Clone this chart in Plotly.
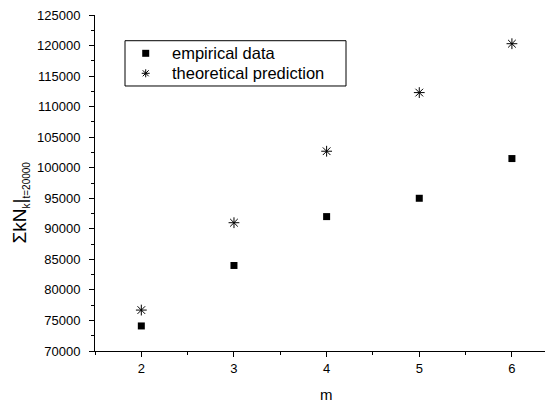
import plotly.graph_objects as go

m_values = [2, 3, 4, 5, 6]
empirical = [74100, 84000, 92000, 95000, 101500]
theoretical = [76700, 91000, 102700, 112300, 120300]
y_ticks = [70000, 75000, 80000, 85000, 90000, 95000, 100000, 105000, 110000, 115000, 120000, 125000]
legend_labels = ["empirical data", "theoretical prediction"]

FONT = "Liberation Sans, Arial, sans-serif"

fig = go.Figure()
fig.add_trace(go.Scatter(
    x=m_values, y=empirical, mode="markers", name=legend_labels[0],
    marker=dict(symbol="square", size=7, color="black", line=dict(width=0)),
    showlegend=False,
))
fig.add_trace(go.Scatter(
    x=m_values, y=theoretical, mode="markers", name=legend_labels[1],
    marker=dict(symbol="asterisk-open", size=9, color="black", line=dict(width=1, color="black")),
    showlegend=False,
))

# plot area (page px): x 95..545, y 15..351 -> 450 x 336
LX0, LX1, LYT, LYB = 0.0667, 0.5578, 0.9235, 0.7887
ROW_Y = [0.8860, 0.8265]
SYM_X = 0.1127
TXT_X = 0.1667

shapes = [
    dict(type="rect", xref="paper", yref="paper", x0=LX0, x1=LX1, y0=LYB, y1=LYT,
         line=dict(color="black", width=1), fillcolor="rgba(0,0,0,0)"),
    dict(type="rect", xref="paper", yref="paper", xsizemode="pixel", ysizemode="pixel",
         xanchor=SYM_X, yanchor=ROW_Y[0], x0=-3.5, x1=3.5, y0=-3.5, y1=3.5,
         line=dict(width=0), fillcolor="black"),
]
for (dx, dy) in [(4, 0), (0, 4), (3, 3), (3, -3)]:
    shapes.append(dict(type="line", xref="paper", yref="paper", xsizemode="pixel", ysizemode="pixel",
                       xanchor=SYM_X, yanchor=ROW_Y[1], x0=-dx, x1=dx, y0=-dy, y1=dy,
                       line=dict(color="black", width=1)))

annotations = [
    dict(text=legend_labels[i], xref="paper", yref="paper", x=TXT_X, y=ROW_Y[i],
         xanchor="left", yanchor="middle", showarrow=False,
         font=dict(family=FONT, size=16.5, color="black"))
    for i in range(2)
]
annotations += [
    dict(text="m", xref="paper", yref="paper", x=0.515, y=-0.128,
         xanchor="center", yanchor="middle", showarrow=False,
         font=dict(family=FONT, size=15, color="black")),
    dict(text="ΣkN<sub><span style='font-size:10px'>k</span></sub>|<sub><span style='font-size:10px'>t=20000</span></sub>",
         xref="paper", yref="paper", x=-0.166, y=0.443,
         xanchor="center", yanchor="middle", textangle=-90, showarrow=False,
         font=dict(family=FONT, size=19, color="black")),
]

fig.update_layout(
    width=537, height=394,
    margin=dict(l=87, r=0, t=7, b=51, autoexpand=False),
    paper_bgcolor="white", plot_bgcolor="white",
    font=dict(family=FONT, size=13, color="black"),
    showlegend=False,
    xaxis=dict(
        range=[1.5, 6.357], showgrid=False, zeroline=False,
        showline=True, linecolor="black", linewidth=1,
        ticks="outside", ticklen=5, tickcolor="black", tickwidth=1,
        tickvals=m_values, ticktext=[str(v) for v in m_values],
        minor=dict(dtick=0.5, tick0=1.5, ticks="outside", ticklen=3, tickcolor="black", showgrid=False),
        tickfont=dict(size=13), ticklabeloverflow="allow",
    ),
    yaxis=dict(
        range=[70000, 125000], showgrid=False, zeroline=False,
        showline=True, linecolor="black", linewidth=1,
        ticks="outside", ticklen=5, tickcolor="black", tickwidth=1,
        tickvals=y_ticks, ticktext=[str(v) for v in y_ticks],
        minor=dict(dtick=2500, tick0=70000, ticks="outside", ticklen=3, tickcolor="black", showgrid=False),
        tickfont=dict(size=13), ticklabelstandoff=6, ticklabeloverflow="allow",
    ),
    shapes=shapes,
    annotations=annotations,
)

fig.write_html("out.html")
